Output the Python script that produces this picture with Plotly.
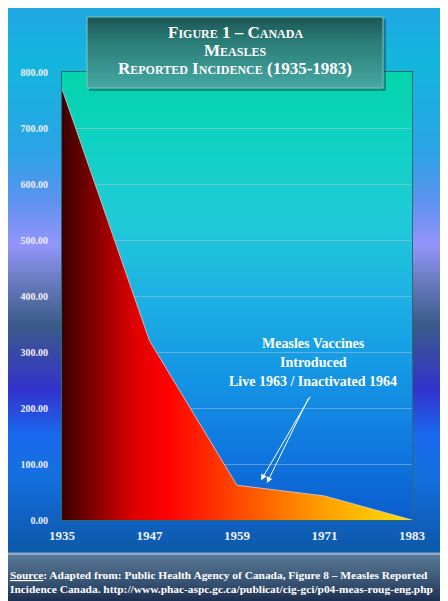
import plotly.graph_objects as go

# ---- data ----
years = [1935, 1947, 1959, 1971, 1983]
incidence = [770, 320, 62, 43, 0]
y_ticks = [0, 100, 200, 300, 400, 500, 600, 700, 800]
y_tick_labels = ["0.00", "100.00", "200.00", "300.00", "400.00", "500.00", "600.00", "700.00", "800.00"]
x_tick_labels = ["1935", "1947", "1959", "1971", "1983"]

OFF = 8                       # page body margin
PW, PH = 448, 601             # page (window) size
W, H = PW - OFF, PH - OFF     # figure size
L, R, T, B = 62, 412, 72, 520 # plot area in page pixels

def px(x):
    return (x - L) / (R - L)

def py(y):
    return (B - y) / (B - T)

def hex2rgb(h):
    h = h.lstrip('#')
    return tuple(int(h[i:i+2], 16) for i in (0, 2, 4))

def interp(stops, y):
    for (y0, c0), (y1, c1) in zip(stops[:-1], stops[1:]):
        if y0 <= y <= y1:
            t = 0 if y1 == y0 else (y - y0) / (y1 - y0)
            a, b = hex2rgb(c0), hex2rgb(c1)
            return 'rgb(%d,%d,%d)' % tuple(round(a[i] + (b[i] - a[i]) * t) for i in range(3))
    return stops[-1][1] if y > stops[-1][0] else stops[0][1]

shapes = []

def vgrad(x0, x1, y0, y1, stops, step=2, layer='below'):
    y = y0
    while y < y1:
        ye = min(y + step, y1)
        shapes.append(dict(type='rect', xref='paper', yref='paper', layer=layer,
                           x0=px(x0), x1=px(x1), y0=py(min(ye + 0.6, y1)), y1=py(y),
                           fillcolor=interp(stops, (y + ye) / 2), line=dict(width=0)))
        y = ye

# outer background
outer_stops = [(7, '#22a6e2'), (60, '#12b6dc'), (150, '#2aa4e6'), (200, '#5c92f0'),
               (245, '#9494fa'), (280, '#6a7cc0'), (325, '#3a5a8a'), (355, '#3848a8'),
               (390, '#3232cc'), (435, '#1a6aee'), (475, '#1470e0'), (520, '#1060c0'),
               (553, '#0c5aa8')]
vgrad(OFF, PW, OFF, 553, outer_stops, step=3)

# bottom band
shapes.append(dict(type='rect', xref='paper', yref='paper', layer='below',
                   x0=px(OFF), x1=px(PW), y0=py(555), y1=py(552.5),
                   fillcolor='#8eaac8', line=dict(width=0)))
vgrad(OFF, PW, 555, PH, [(555, '#5a7896'), (580, '#3a5676'), (601, '#1c3050')], step=2)

# plot area
plot_stops = [(72, '#04d4ac'), (150, '#10d2c4'), (220, '#20cad8'), (300, '#1cb0e4'),
              (380, '#1494e4'), (450, '#1078e0'), (520, '#0a5ccc')]
vgrad(L, R, T, B, plot_stops, step=3)

# title box
shapes.append(dict(type='rect', xref='paper', yref='paper', layer='above',
                   x0=px(89), x1=px(386), y0=py(91), y1=py(19),
                   fillcolor='rgba(20,60,70,0.45)', line=dict(width=0)))
vgrad(87, 383, 17, 88, [(17, '#1c5654'), (40, '#2a7a76'), (88, '#46a8a2')], step=2, layer='above')
shapes.append(dict(type='rect', xref='paper', yref='paper', layer='above',
                   x0=px(87), x1=px(383), y0=py(88), y1=py(17),
                   fillcolor='rgba(0,0,0,0)', line=dict(width=1, color='#7cc8c0')))

fig = go.Figure()
fig.add_trace(go.Scatter(
    x=years, y=incidence, mode='lines', fill='tozeroy',
    line=dict(color='rgba(225,205,205,0.8)', width=1),
    fillgradient=dict(type='horizontal', start=years[0], stop=years[-1],
                      colorscale=[[0, '#3a0000'], [0.1, '#880000'], [0.2, '#dc0000'],
                                  [0.3, '#ff0000'], [0.5, '#ff4800'], [0.75, '#ffa000'],
                                  [1, '#ffe000']]),
    hoverinfo='skip', showlegend=False))

serif = 'Liberation Serif'
annotations = []
for text, yy in [('Figure 1 – Canada', 32), ('Measles', 50.5), ('Reported Incidence (1935-1983)', 69)]:
    annotations.append(dict(xref='paper', yref='paper', x=px(235), y=py(yy),
                            xanchor='center', yanchor='middle', text='<b>%s</b>' % text,
                            showarrow=False,
                            font=dict(family=serif, size=17, color='white', variant='small-caps')))
for text, yy in [('Measles Vaccines', 343), ('Introduced', 362), ('Live 1963 / Inactivated 1964', 381)]:
    annotations.append(dict(xref='paper', yref='paper', x=px(313), y=py(yy),
                            xanchor='center', yanchor='middle', text='<b>%s</b>' % text,
                            showarrow=False, font=dict(family=serif, size=14, color='white')))
for text, yy in [('<u>Source</u>: Adapted from: Public Health Agency of Canada, Figure 8 – Measles Reported', 575),
                 ('Incidence Canada. http://www.phac-aspc.gc.ca/publicat/cig-gci/p04-meas-roug-eng.php', 589)]:
    annotations.append(dict(xref='paper', yref='paper', x=px(8), y=py(yy),
                            xanchor='left', yanchor='middle', text='<b>%s</b>' % text,
                            showarrow=False, font=dict(family=serif, size=11.4, color='white')))
# arrows
for hx, hy, tx, ty in [(1962.3, 71, 1969.15, 223), (1963.1, 66, 1968.9, 220)]:
    annotations.append(dict(xref='x', yref='y', axref='x', ayref='y', x=hx, y=hy, ax=tx, ay=ty,
                            text='', showarrow=True, arrowhead=2, arrowsize=1.2, arrowwidth=1,
                            arrowcolor='white'))

fig.update_layout(
    width=W, height=H, autosize=False,
    margin=dict(l=L - OFF, r=PW - R, t=T - OFF, b=PH - B, pad=0),
    paper_bgcolor='white', plot_bgcolor='rgba(0,0,0,0)',
    shapes=shapes, annotations=annotations,
    xaxis=dict(range=[1935, 1983], tickvals=years, ticktext=x_tick_labels,
               showgrid=False, zeroline=False, showline=True, linecolor='#2a6a70', linewidth=1,
               mirror=True, ticks='', ticklabelstandoff=3,
               tickfont=dict(family=serif, size=13, color='#f0f0f8', weight='bold')),
    yaxis=dict(range=[0, 800], tickvals=y_ticks, ticktext=y_tick_labels,
               showgrid=True, gridcolor='rgba(190,200,210,0.45)', gridwidth=1,
               zeroline=False, showline=True, linecolor='#2a6a70', linewidth=1, mirror=True,
               ticks='', ticklabelstandoff=11,
               tickfont=dict(family=serif, size=10, color='#eeeef8', weight='bold')),
)

fig.write_html("out.html")
